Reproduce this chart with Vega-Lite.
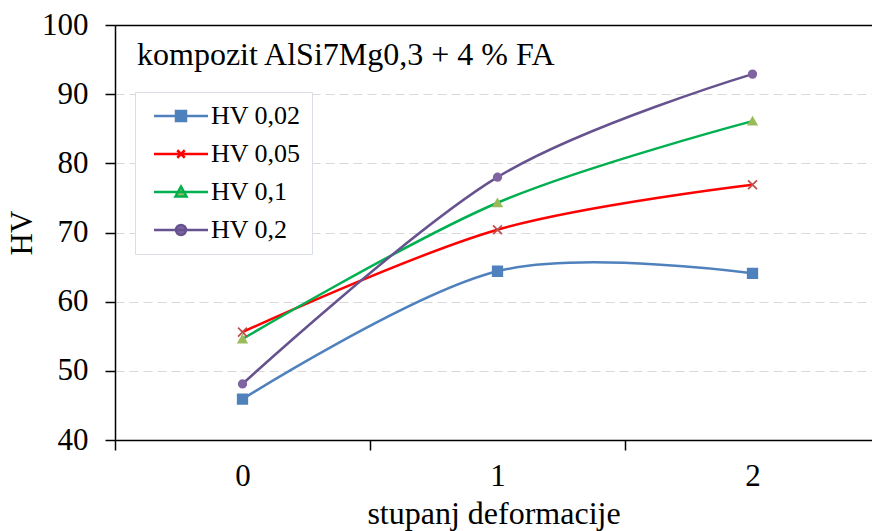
{
  "$schema": "https://vega.github.io/schema/vega-lite/v6.json",
  "width": 757,
  "height": 415,
  "autosize": {"type": "none"},
  "padding": {"left": 115, "top": 25, "right": 0, "bottom": 91},
  "background": "white",
  "config": {
    "view": {"stroke": null},
    "font": "Liberation Serif",
    "axis": {"labelFont": "Liberation Serif", "titleFont": "Liberation Serif"},
    "legend": {"labelFont": "Liberation Serif"}
  },
  "data": {
    "values": [
      {"series": "HV 0,02", "x": 0, "hv": 45.9},
      {"series": "HV 0,02", "x": 1, "hv": 64.4},
      {"series": "HV 0,02", "x": 2, "hv": 64.1},
      {"series": "HV 0,05", "x": 0, "hv": 55.6},
      {"series": "HV 0,05", "x": 1, "hv": 70.4},
      {"series": "HV 0,05", "x": 2, "hv": 76.9},
      {"series": "HV 0,1", "x": 0, "hv": 54.6},
      {"series": "HV 0,1", "x": 1, "hv": 74.3},
      {"series": "HV 0,1", "x": 2, "hv": 86.1},
      {"series": "HV 0,2", "x": 0, "hv": 48.1},
      {"series": "HV 0,2", "x": 1, "hv": 78.0},
      {"series": "HV 0,2", "x": 2, "hv": 92.9}
    ]
  },
  "encoding": {
    "x": {
      "field": "x",
      "type": "quantitative",
      "scale": {"domain": [-0.5, 2.4686], "nice": false, "zero": false},
      "axis": {
        "title": "stupanj deformacije",
        "titleFont": "Liberation Serif",
        "titleFontSize": 32,
        "titleFontWeight": "normal",
        "titleColor": "black",
        "titlePadding": 7,
        "values": [-0.5, 0, 0.5, 1, 1.5, 2],
        "labelExpr": "datum.value % 1 === 0 ? format(datum.value, 'd') : ''",
        "labelFont": "Liberation Serif",
        "labelFontSize": 31,
        "labelColor": "black",
        "labelPadding": 11,
        "labelOverlap": false,
        "labelFlush": false,
        "grid": false,
        "domainColor": "black",
        "domainWidth": 1.5,
        "tickColor": "black",
        "tickWidth": 1.5,
        "tickSize": 10,
        "tickOpacity": {"condition": {"test": "datum.value % 1 === 0", "value": 0}, "value": 1}
      }
    },
    "y": {
      "field": "hv",
      "type": "quantitative",
      "scale": {"domain": [40, 100], "nice": false, "zero": false},
      "axis": {
        "title": "HV",
        "titleFont": "Liberation Serif",
        "titleFontSize": 31,
        "titleFontWeight": "normal",
        "titleColor": "black",
        "titlePadding": 3,
        "values": [40, 50, 60, 70, 80, 90, 100],
        "labelFont": "Liberation Serif",
        "labelFontSize": 31,
        "labelColor": "black",
        "labelPadding": 17,
        "domainColor": "black",
        "domainWidth": 1.5,
        "tickColor": "black",
        "tickWidth": 1.5,
        "tickSize": 10,
        "grid": true,
        "gridColor": {"condition": {"test": "datum.value === 100", "value": "black"}, "value": "#D9D9D9"},
        "gridDash": {"condition": {"test": "datum.value === 100", "value": []}, "value": [9, 5]},
        "gridWidth": {"condition": {"test": "datum.value === 100", "value": 1.5}, "value": 1}
      }
    }
  },
  "layer": [
    {
      "mark": {"type": "line", "interpolate": "cardinal", "strokeWidth": 2.5},
      "encoding": {
        "stroke": {
          "field": "series",
          "type": "nominal",
          "scale": {
            "domain": ["HV 0,02", "HV 0,05", "HV 0,1", "HV 0,2"],
            "range": ["#4F81BD", "#FF0000", "#00B050", "#65528E"]
          },
          "legend": {
            "orient": "none",
            "legendX": 20,
            "legendY": 67,
            "title": null,
            "labelFont": "Liberation Serif",
            "labelFontSize": 26,
            "labelColor": "black",
            "labelOffset": 17,
            "symbolSize": 100,
            "symbolOffset": 22,
            "symbolStrokeWidth": 2.5,
            "rowPadding": 12,
            "padding": 11,
            "strokeColor": "#D9DEE8",
            "fillColor": "white",
            "encode": {
              "symbols": {
                "update": {
                  "shape": {"signal": "['M-5.4,0H5.4M-1,-1H1V1H-1Z','M-5.4,0H5.4M-0.75,-0.75L0.75,0.75M-0.75,0.75L0.75,-0.75','M-5.4,0H5.4M0,-1.1L1.1,0.9H-1.1Z','M-5.4,0H5.4M1,0A1,1,0,1,1,-1,0A1,1,0,1,1,1,0Z'][indexof(['HV 0,02','HV 0,05','HV 0,1','HV 0,2'], datum.value)]"},
                  "fill": {"signal": "['#4F81BD','#C0504D','#9BBB59','#8064A2'][indexof(['HV 0,02','HV 0,05','HV 0,1','HV 0,2'], datum.value)]"},
                  "strokeWidth": {"value": 2.5}
                }
              }
            }
          }
        }
      }
    },
    {
      "mark": {"type": "point", "filled": true, "opacity": 1, "strokeWidth": 1.8},
      "encoding": {
        "shape": {
          "field": "series",
          "type": "nominal",
          "scale": {
            "domain": ["HV 0,02", "HV 0,05", "HV 0,1", "HV 0,2"],
            "range": ["square", "M-1,-1L1,1M-1,1L1,-1", "triangle-up", "circle"]
          },
          "legend": null
        },
        "fill": {
          "field": "series",
          "type": "nominal",
          "scale": {
            "domain": ["HV 0,02", "HV 0,05", "HV 0,1", "HV 0,2"],
            "range": ["#4F81BD", "#C0504D", "#9BBB59", "#8064A2"]
          },
          "legend": null
        },
        "stroke": {
          "field": "series",
          "type": "nominal",
          "scale": {
            "domain": ["HV 0,02", "HV 0,05", "HV 0,1", "HV 0,2"],
            "range": ["#4F81BD", "#C0504D", "#9BBB59", "#8064A2"]
          },
          "legend": null
        },
        "size": {
          "field": "series",
          "type": "nominal",
          "scale": {
            "domain": ["HV 0,02", "HV 0,05", "HV 0,1", "HV 0,2"],
            "range": [90, 56, 110, 110]
          },
          "legend": null
        }
      }
    },
    {
      "data": {"values": [{"label": "kompozit AlSi7Mg0,3 + 4 % FA", "x": -0.5, "hv": 95.7}]},
      "mark": {"type": "text", "align": "left", "baseline": "middle", "dx": 22, "font": "Liberation Serif", "fontSize": 32, "color": "black"},
      "encoding": {
        "text": {"field": "label"}
      }
    }
  ],
  "resolve": {"scale": {"stroke": "independent"}}
}
